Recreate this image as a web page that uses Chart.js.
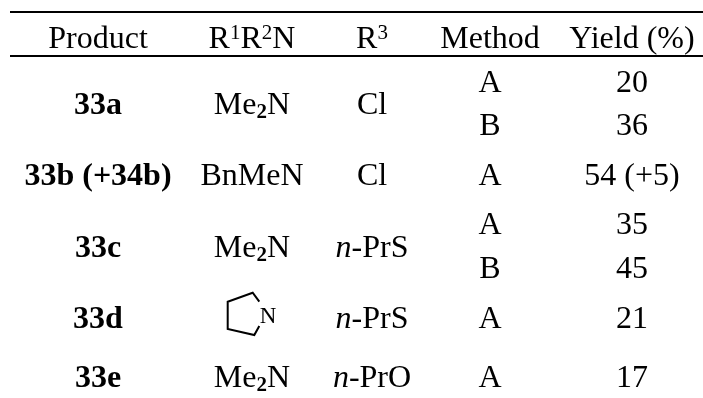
<!DOCTYPE html>
<html>
<head>
<meta charset="utf-8">
<style>
  body { margin: 0; background: #fff; }
  canvas { display: block; }
</style>
<script src="https://cdn.jsdelivr.net/npm/chart.js@4"></script>
</head>
<body>
<canvas id="tableChart" width="703" height="398"></canvas>
<script>
// ---------- Data ----------
// ^n = superscript, _n = subscript, *x* = italic
const headers = ["Product", "R^1R^2N", "R^3", "Method", "Yield (%)"];
const products = ["33a", "33b (+34b)", "33c", "33d", "33e"];
const amines = ["Me_2N", "BnMeN", "Me_2N", "N", "Me_2N"];
const r3Groups = ["Cl", "Cl", "*n*-PrS", "*n*-PrS", "*n*-PrO"];
const methods = ["A", "B", "A", "A", "B", "A", "A"];
const yields = ["20", "36", "54 (+5)", "35", "45", "21", "17"];

// ---------- Layout (scale is in picture pixels) ----------
const columnX = { product: 98, amine: 252, r3: 372, method: 490, yield: 632 };
const headerY = 48;
const groupY = [114, 185, 257, 328, 387];
const detailY = [92, 135, 185, 234, 278, 328, 387];
const ruleY = [12, 56];
const ruleStart = 10;
const ruleEnd = 703;
const ringPath = [[259.3, 301.7], [252.7, 292.7], [227.7, 301.7], [227.7, 329], [254.3, 335], [259.3, 326]];
const ringLabel = { x: 268, y: 323 };

const FONT = '"Liberation Serif", "Times New Roman", serif';
const SIZE = 32;

function textSet(texts, xs, ys, opts) {
  return Object.assign({
    type: 'scatter',
    data: texts.map((t, i) => ({ x: Array.isArray(xs) ? xs[i] : xs, y: ys[i] })),
    texts: texts,
    pointRadius: 0,
    showLine: false
  }, opts);
}

function lineSet(points, width) {
  return {
    type: 'line',
    data: points.map(p => ({ x: p[0], y: p[1] })),
    borderColor: '#000',
    borderWidth: width,
    pointRadius: 0,
    tension: 0,
    fill: false
  };
}

// ---------- Cell text ----------
function splitRuns(text) {
  const runs = [];
  const re = /\^(\d)|_(\d)|\*(.+?)\*|([^\^_*]+)/g;
  let m;
  while ((m = re.exec(text))) {
    if (m[1]) runs.push({ t: m[1], kind: 'sup' });
    else if (m[2]) runs.push({ t: m[2], kind: 'sub' });
    else if (m[3]) runs.push({ t: m[3], kind: 'ital' });
    else runs.push({ t: m[4], kind: 'plain' });
  }
  return runs;
}

function runFont(run, bold, size) {
  if (run.kind === 'sup') return `${Math.round(size * 0.65)}px ${FONT}`;
  if (run.kind === 'sub') return `bold ${Math.round(size * 0.65)}px ${FONT}`;
  if (run.kind === 'ital') return `italic ${size}px ${FONT}`;
  return `${bold ? 'bold ' : ''}${size}px ${FONT}`;
}

const cellText = {
  id: 'cellText',
  afterDatasetsDraw(chart) {
    const ctx = chart.ctx;
    ctx.save();
    ctx.fillStyle = '#000';
    ctx.textBaseline = 'alphabetic';
    ctx.textAlign = 'left';
    chart.data.datasets.forEach((ds, d) => {
      if (!ds.texts) return;
      const size = ds.size || SIZE;
      chart.getDatasetMeta(d).data.forEach((pt, i) => {
        const runs = splitRuns(ds.texts[i]);
        let width = 0;
        runs.forEach(r => {
          ctx.font = runFont(r, ds.bold, size);
          r.w = ctx.measureText(r.t).width;
          width += r.w;
        });
        let x = pt.x - width / 2;
        runs.forEach(r => {
          ctx.font = runFont(r, ds.bold, size);
          let y = pt.y;
          if (r.kind === 'sup') y -= size * 0.28;
          if (r.kind === 'sub') y += size * 0.14;
          ctx.fillText(r.t, x, y);
          x += r.w;
        });
      });
    });
    ctx.restore();
  }
};

// ---------- Chart ----------
// the ring row of the amine column has its own smaller N
const ringRow = amines.indexOf("N");
const plainAmines = amines.filter((a, i) => i !== ringRow);
const plainAmineY = groupY.filter((y, i) => i !== ringRow);

new Chart(document.getElementById('tableChart').getContext('2d'), {
  data: {
    datasets: [
      lineSet([[ruleStart, ruleY[0]], [ruleEnd, ruleY[0]]], 2),
      lineSet([[ruleStart, ruleY[1]], [ruleEnd, ruleY[1]]], 2),
      lineSet(ringPath, 2),
      textSet(headers, Object.values(columnX), headers.map(() => headerY)),
      textSet(products, columnX.product, groupY, { bold: true }),
      textSet(plainAmines, columnX.amine, plainAmineY),
      textSet([amines[ringRow]], ringLabel.x, [ringLabel.y], { size: 23 }),
      textSet(r3Groups, columnX.r3, groupY),
      textSet(methods, columnX.method, detailY),
      textSet(yields, columnX.yield, detailY)
    ]
  },
  options: {
    responsive: false,
    animation: false,
    layout: { padding: 0 },
    plugins: { legend: { display: false }, tooltip: { enabled: false } },
    scales: {
      x: { type: 'linear', min: 0, max: 703, display: false },
      y: { type: 'linear', min: 0, max: 398, reverse: true, display: false }
    }
  },
  plugins: [cellText]
});
</script>
</body>
</html>
